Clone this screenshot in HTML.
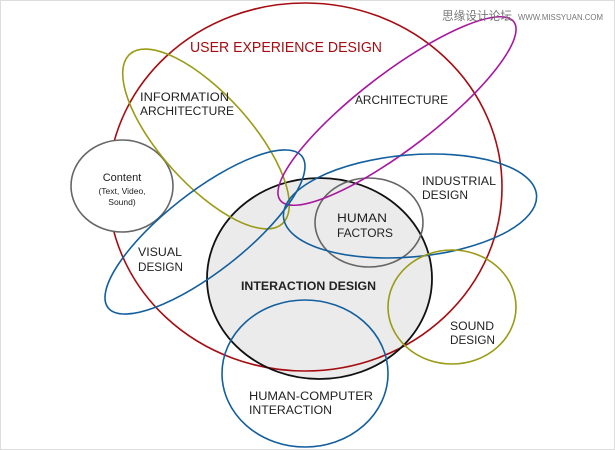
<!DOCTYPE html>
<html><head><meta charset="utf-8"><style>
html,body{margin:0;padding:0;background:#fff;}
svg{display:block;}
text{font-family:"Liberation Sans","Noto Sans CJK SC",sans-serif;fill:#222;}
</style></head><body>
<svg width="615" height="450" viewBox="0 0 615 450" xmlns="http://www.w3.org/2000/svg">
<rect x="0.5" y="0.5" width="614" height="449" fill="#fff" stroke="#ddd"/>
<ellipse cx="319.5" cy="278.5" rx="112.5" ry="100.5" fill="#ebebeb" stroke="none"/>
<ellipse cx="305" cy="187" rx="197" ry="184" fill="none" stroke="#a50d12" stroke-width="1.6"/>
<ellipse cx="122" cy="186" rx="51" ry="46" fill="#fff" stroke="#666" stroke-width="1.6"/>
<ellipse cx="319.5" cy="278.5" rx="112.5" ry="100.5" fill="none" stroke="#111" stroke-width="1.8"/>
<ellipse cx="369" cy="222.5" rx="54" ry="44.5" fill="none" stroke="#666" stroke-width="1.6"/>
<ellipse cx="206" cy="139" rx="114" ry="45" transform="rotate(48 206 139)" fill="none" stroke="#9a9a14" stroke-width="1.6"/>
<ellipse cx="397" cy="111" rx="147" ry="38" transform="rotate(-37.4 397 111)" fill="none" stroke="#a8189f" stroke-width="1.6"/>
<ellipse cx="205" cy="232" rx="123" ry="40" transform="rotate(-38 205 232)" fill="none" stroke="#135f9e" stroke-width="1.6"/>
<ellipse cx="410" cy="206" rx="127" ry="51" transform="rotate(-5 410 206)" fill="none" stroke="#135f9e" stroke-width="1.6"/>
<ellipse cx="452" cy="307" rx="64" ry="57" fill="none" stroke="#9a9a14" stroke-width="1.6"/>
<ellipse cx="305" cy="373.5" rx="83" ry="73.5" fill="none" stroke="#135f9e" stroke-width="1.6"/>

<text x="442" y="20" font-size="12" style="fill:#777" textLength="70" lengthAdjust="spacingAndGlyphs">思缘设计论坛</text>
<text x="518" y="20" font-size="8" style="fill:#777" textLength="85" lengthAdjust="spacingAndGlyphs">WWW.MISSYUAN.COM</text>

<text x="190" y="52" font-size="14.5" style="fill:#a50d12" textLength="192" lengthAdjust="spacingAndGlyphs">USER EXPERIENCE DESIGN</text>
<g font-size="11.5">
<text x="140" y="101" textLength="89" lengthAdjust="spacingAndGlyphs">INFORMATION</text>
<text x="140" y="115" textLength="94" lengthAdjust="spacingAndGlyphs">ARCHITECTURE</text>
<text x="355" y="104" textLength="93" lengthAdjust="spacingAndGlyphs">ARCHITECTURE</text>
<text x="422" y="185" textLength="74" lengthAdjust="spacingAndGlyphs">INDUSTRIAL</text>
<text x="422" y="199" textLength="46" lengthAdjust="spacingAndGlyphs">DESIGN</text>
<text x="337" y="222" textLength="50" lengthAdjust="spacingAndGlyphs">HUMAN</text>
<text x="337" y="237" textLength="56" lengthAdjust="spacingAndGlyphs">FACTORS</text>
<text x="138" y="256" textLength="44" lengthAdjust="spacingAndGlyphs">VISUAL</text>
<text x="138" y="271" textLength="45" lengthAdjust="spacingAndGlyphs">DESIGN</text>
<text x="450" y="330" textLength="44" lengthAdjust="spacingAndGlyphs">SOUND</text>
<text x="450" y="344" textLength="45" lengthAdjust="spacingAndGlyphs">DESIGN</text>
<text x="249" y="400" textLength="124" lengthAdjust="spacingAndGlyphs">HUMAN-COMPUTER</text>
<text x="249" y="414" textLength="83" lengthAdjust="spacingAndGlyphs">INTERACTION</text>
</g>
<text x="241" y="290" font-size="11.5" font-weight="bold" textLength="135" lengthAdjust="spacingAndGlyphs">INTERACTION DESIGN</text>
<text x="122" y="181" font-size="11" text-anchor="middle">Content</text>
<text x="122" y="194" font-size="8.5" text-anchor="middle">(Text, Video,</text>
<text x="122" y="205" font-size="8.5" text-anchor="middle">Sound)</text>
</svg>
</body></html>
